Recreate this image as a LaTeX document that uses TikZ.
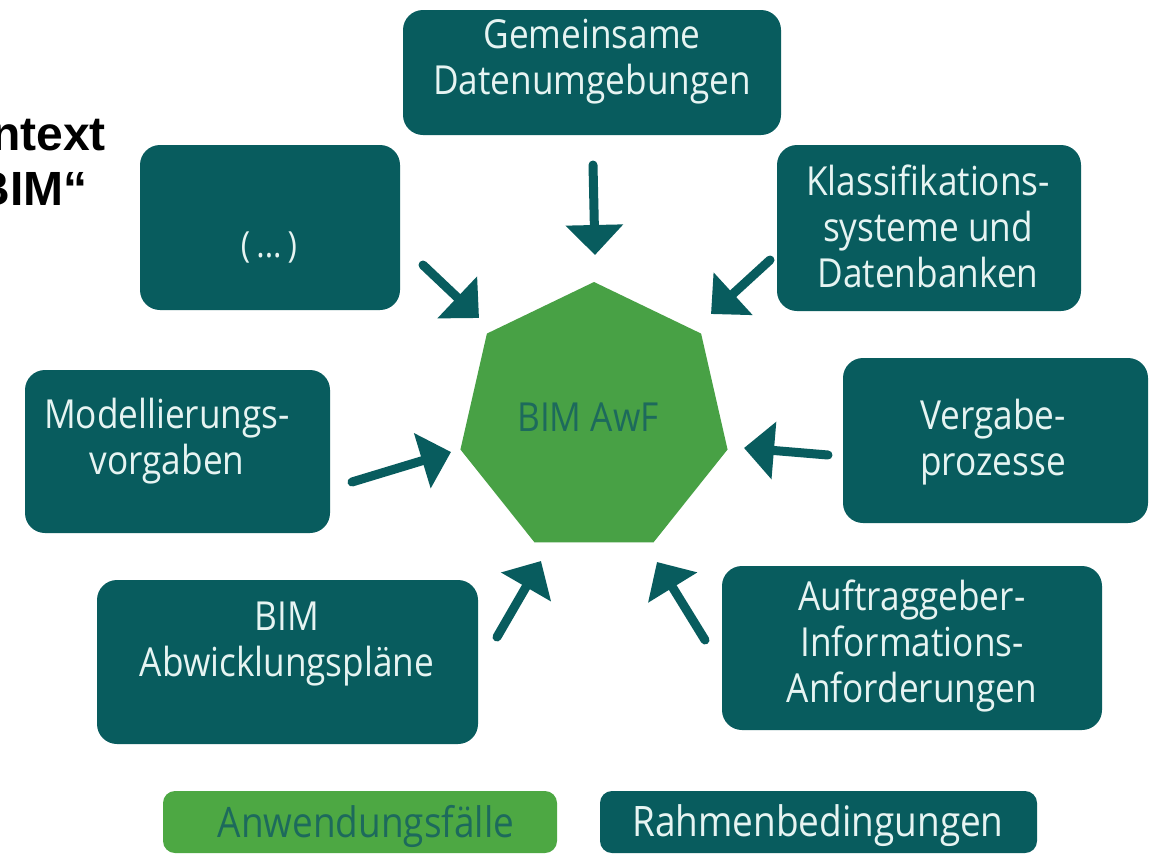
\documentclass[tikz,border=0pt]{standalone}
\usepackage{fontspec}
\setmainfont{Open Sans}
\newfontfamily\boxfont[FakeStretch=0.88]{Open Sans}
\newfontfamily\titlefont{Liberation Sans}
\usetikzlibrary{arrows.meta,shapes.geometric}
\definecolor{bimteal}{HTML}{085C5E}
\definecolor{bimgreen}{HTML}{48A145}
\definecolor{leggreen}{HTML}{4DA843}
\definecolor{boxtext}{HTML}{E6F4F2}
\definecolor{greentext}{HTML}{1D6A5C}
\begin{document}
\begin{tikzpicture}[x=1pt,y=-1pt,
  box/.style={fill=bimteal, rounded corners=20pt, inner sep=0pt, outer sep=0pt},
  lbl/.style={text=boxtext, font=\boxfont\fontsize{40}{46}\selectfont, align=center, inner sep=0pt},
  leglbl/.style={font=\boxfont\fontsize{42}{46}\selectfont, inner sep=0pt},
  arr/.style={draw=bimteal, line width=9pt, line cap=round, -{Triangle[length=30pt,width=56pt]}},
  title/.style={anchor=base east, font=\titlefont\bfseries\fontsize{48}{56}\selectfont, inner sep=0pt}]
\useasboundingbox (0,0) rectangle (1158,854);
\fill[white] (0,0) rectangle (1158,854);

% title fragment (cut at the left edge as in the reference)
\node[title] (t1) at (106,150) {ntext};
\node[title] (t2) at (88,205) {BIM“};

% boxes
\node[box, minimum width=378pt, minimum height=125pt] (gem) at (592,72.5) {};
\node[box, minimum width=260pt, minimum height=165pt] (dots) at (270,227.5) {};
\node[box, minimum width=304pt, minimum height=166pt] (klass) at (929,228) {};
\node[box, minimum width=305pt, minimum height=163pt] (mod) at (177.5,451.5) {};
\node[box, minimum width=305pt, minimum height=165pt] (verg) at (995.5,440.5) {};
\node[box, minimum width=381pt, minimum height=164pt] (abw) at (287.5,662) {};
\node[box, minimum width=380pt, minimum height=164pt] (auf) at (912,648) {};

% texts
\node[lbl] (gemT) at (592,62) {Gemeinsame\\Datenumgebungen};
\node[lbl, font=\boxfont\fontsize{36}{40}\selectfont] (dotsT) at (269,247) {(\,...\,)};
\node[lbl] (klassT) at (928,226) {Klassifikations-\\systeme und\\Datenbanken};
\node[lbl] (modT) at (167,441) {Modellierungs-\\vorgaben};
\node[lbl] (vergT) at (993,442) {Vergabe-\\prozesse};
\node[lbl] (abwT) at (287,644) {BIM\\Abwicklungspläne};
\node[lbl] (aufT) at (912,646) {Auftraggeber-\\Informations-\\Anforderungen};

% central heptagon
\node[regular polygon, regular polygon sides=7, minimum size=274pt, fill=bimgreen,
      inner sep=0pt, outer sep=0pt] (hept) at (594,419) {};
\node[text=greentext, font=\boxfont\fontsize{40}{46}\selectfont, inner sep=0pt] (heptT) at (588,417) {BIM AwF};

% arrows
\coordinate (a1s) at (593,165); \coordinate (a1e) at (595,255);
\coordinate (a2s) at (423,265); \coordinate (a2e) at (479,318);
\coordinate (a3s) at (770,260); \coordinate (a3e) at (711,314);
\coordinate (a4s) at (352,482); \coordinate (a4e) at (451,452);
\coordinate (a5s) at (828,455); \coordinate (a5e) at (744,448);
\coordinate (a6s) at (497,637); \coordinate (a6e) at (541,561);
\coordinate (a7s) at (705,640); \coordinate (a7e) at (657,562);
\draw[arr] (a1s) -- (a1e);
\draw[arr] (a2s) -- (a2e);
\draw[arr] (a3s) -- (a3e);
\draw[arr] (a4s) -- (a4e);
\draw[arr] (a5s) -- (a5e);
\draw[arr] (a6s) -- (a6e);
\draw[arr] (a7s) -- (a7e);

% legend
\node[box, fill=leggreen, rounded corners=12pt, minimum width=394pt, minimum height=62pt] (leg1) at (360,822) {};
\node[box, rounded corners=12pt, minimum width=437pt, minimum height=62pt] (leg2) at (818.5,822) {};
\node[leglbl, text=greentext] (leg1T) at (366,826) {Anwendungsfälle};
\node[leglbl, text=boxtext] (leg2T) at (818,826) {Rahmenbedingungen};
\end{tikzpicture}
\end{document}
